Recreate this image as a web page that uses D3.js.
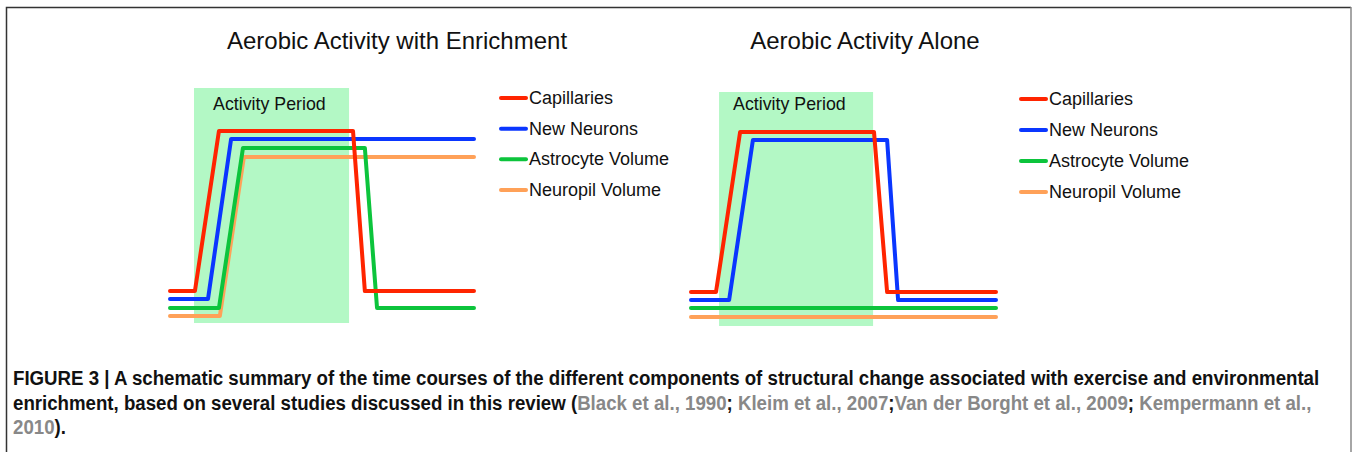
<!DOCTYPE html>
<html><head><meta charset="utf-8">
<script src="https://cdn.jsdelivr.net/npm/d3@7"></script>
<style>
body{margin:0;background:#fff;}
svg{display:block;}
</style></head>
<body>
<svg id="c" width="1352" height="452"></svg>
<script>
// ---- data ----
const seriesNames = ["Capillaries", "New Neurons", "Astrocyte Volume", "Neuropil Volume"];
const seriesColors = ["#ff2400", "#0a36ff", "#0cc43c", "#ffa158"];
const panelTitles = ["Aerobic Activity with Enrichment", "Aerobic Activity Alone"];
const activityLabel = "Activity Period";
// time (0-100) and level (0-100) points for each series, panel 1
const p1Times = [
  [0, 8.2, 16.1, 60.2, 64.1, 100],
  [0, 12.5, 20.1, 100],
  [0, 16.1, 24.0, 64.1, 68.1, 100],
  [0, 16.4, 24.3, 100]
];
const p1Levels = [
  [13.6, 13.6, 81.7, 81.7, 13.6, 13.6],
  [10.2, 10.2, 78.3, 78.3],
  [6.4, 6.4, 74.5, 74.5, 6.4, 6.4],
  [3.0, 3.0, 70.6, 70.6]
];
const p1Activity = [7.9, 58.9];
// panel 2
const p2Times = [
  [0, 8.2, 16.1, 60.0, 64.3, 100],
  [0, 12.5, 20.3, 64.3, 67.9, 100],
  [0, 100],
  [0, 100]
];
const p2Levels = [
  [14.5, 14.5, 82.9, 82.9, 14.5, 14.5],
  [11.1, 11.1, 79.5, 79.5, 11.1, 11.1],
  [7.7, 7.7],
  [3.8, 3.8]
];
const p2Activity = [9.2, 59.7];

const svg = d3.select("#c");
const sans = "Liberation Sans, Arial, sans-serif";

// frame
svg.append("path").attr("d","M6.5,452 L6.5,7.5 L1351,7.5")
  .attr("fill","none").attr("stroke","#333").attr("stroke-width",1.5);
svg.append("line").attr("x1",1351).attr("x2",1351).attr("y1",7).attr("y2",452)
  .attr("stroke","#888").attr("stroke-width",1.5);

function panel(cfg){
  const x = d3.scaleLinear().domain([0,100]).range(cfg.xr);
  const y = d3.scaleLinear().domain([0,100]).range(cfg.yr);
  const g = svg.append("g");
  g.append("rect").attr("x",x(cfg.act[0])).attr("width",x(cfg.act[1])-x(cfg.act[0]))
    .attr("y",y(100)).attr("height",y(0)-y(100)).attr("fill","#b3f8c5");
  g.append("text").attr("x",x(cfg.act[0])+cfg.labDx).attr("y",110)
    .attr("font-family",sans).attr("font-size",17.8)
    .attr("fill","#111").text(activityLabel);
  const line = d3.line().x(d=>x(d[0])).y(d=>y(d[1]));
  for (let i = 3; i >= 0; i--) {
    const pts = cfg.times[i].map((t,k)=>[t,cfg.levels[i][k]]);
    g.append("path").attr("d",line(pts)).attr("fill","none")
      .attr("stroke",seriesColors[i]).attr("stroke-width",4)
      .attr("stroke-linejoin","round").attr("stroke-linecap","round");
  }
  g.append("text").attr("x",cfg.titleX).attr("y",49).attr("text-anchor","middle")
    .attr("font-family",sans).attr("font-size",24)
    .attr("fill","#111").text(cfg.title);
  const ly = d3.scalePoint().domain(seriesNames).range(cfg.legY);
  seriesNames.forEach((n,i)=>{
    g.append("line").attr("x1",cfg.legX).attr("x2",cfg.legX+25)
      .attr("y1",ly(n)).attr("y2",ly(n)).attr("stroke",seriesColors[i])
      .attr("stroke-width",4).attr("stroke-linecap","round");
    g.append("text").attr("x",cfg.legX+28).attr("y",ly(n)+6)
      .attr("font-family",sans).attr("font-size",18)
      .attr("fill","#111").text(n);
  });
}
panel({xr:[170,474], yr:[323,88], times:p1Times, levels:p1Levels, act:p1Activity,
  title:panelTitles[0], titleX:397, legX:501, legY:[98,190], labDx:19});
panel({xr:[691,996], yr:[326,92], times:p2Times, levels:p2Levels, act:p2Activity,
  title:panelTitles[1], titleX:865, legX:1021, legY:[99,192], labDx:14});

// caption
const capLines = [
  [["FIGURE 3 | A schematic summary of the time courses of the different components of structural change associated with exercise and environmental","#111"]],
  [["enrichment, based on several studies discussed in this review (","#111"],["Black et al., 1990","#888"],["; ","#111"],["Kleim et al., 2007","#888"],[";","#111"],["Van der Borght et al., 2009","#888"],["; ","#111"],["Kempermann et al.,","#888"]],
  [["2010","#888"],[").","#111"]]
];
const capY = [385, 410, 434];
const capNodes = capLines.map((ln,i)=>{
  const t = svg.append("text").attr("x",0).attr("y",0)
    .attr("font-family",sans).attr("font-weight","bold").attr("font-size",19.5)
    .attr("transform",`translate(13,${capY[i]})`);
  ln.forEach(([s,c])=>t.append("tspan").attr("fill",c).text(s));
  return t;
});
const w0 = capNodes[0].node().getComputedTextLength();
const sx = 1307 / w0;
capNodes.forEach((t,i)=>t.attr("transform",`translate(13,${capY[i]}) scale(${sx},1)`));
</script>
</body></html>
